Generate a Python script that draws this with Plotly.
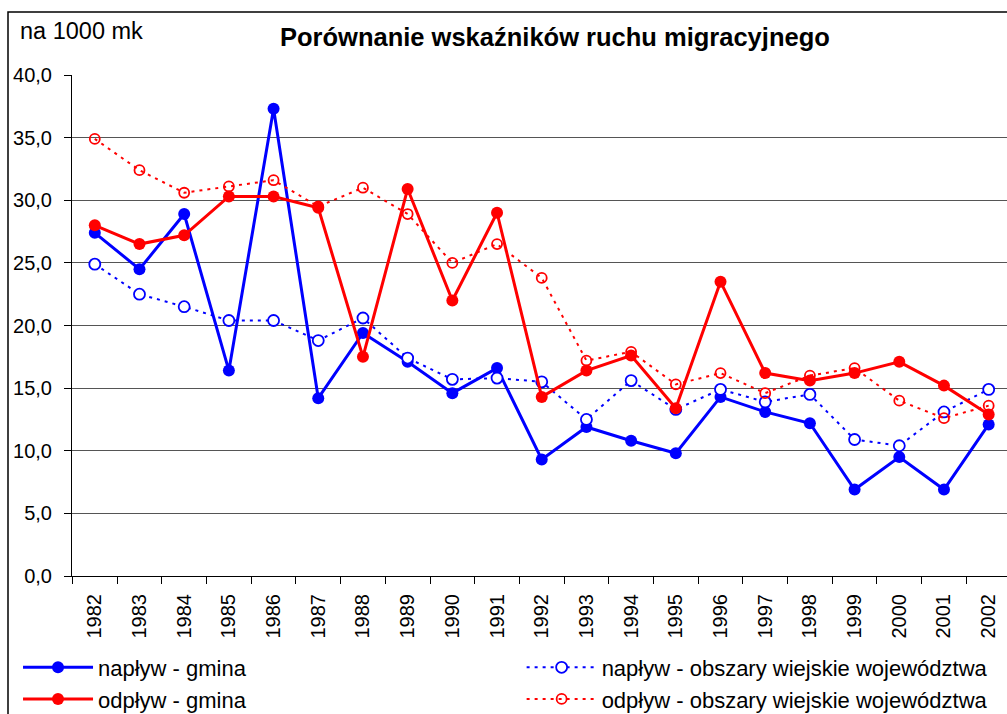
import plotly.graph_objects as go

years = [str(y) for y in range(1982, 2003)]
naplyw_gmina = [27.4, 24.5, 28.9, 16.4, 37.3, 14.2, 19.4, 17.1, 14.6, 16.6, 9.3,
                11.9, 10.8, 9.8, 14.3, 13.1, 12.2, 6.9, 9.5, 6.9, 12.1]
odplyw_gmina = [28.0, 26.5, 27.2, 30.3, 30.3, 29.4, 17.5, 30.9, 22.0, 29.0, 14.3,
                16.4, 17.6, 13.4, 23.5, 16.2, 15.6, 16.2, 17.1, 15.2, 12.9]
naplyw_wies = [24.9, 22.5, 21.5, 20.4, 20.4, 18.8, 20.6, 17.4, 15.7, 15.8, 15.5,
               12.5, 15.6, 13.3, 14.9, 13.9, 14.5, 10.9, 10.4, 13.1, 14.9]
odplyw_wies = [34.9, 32.4, 30.6, 31.1, 31.6, 29.5, 31.0, 28.9, 25.0, 26.5, 23.8,
               17.2, 17.9, 15.3, 16.2, 14.6, 16.0, 16.6, 14.0, 12.6, 13.6]
y_ticks = [0, 5, 10, 15, 20, 25, 30, 35, 40]

FONT = "Arial, Liberation Sans, sans-serif"
BLUE = "#0000FF"
RED = "#FF0000"

fig = go.Figure()
fig.add_trace(go.Scatter(
    x=years, y=naplyw_gmina, name="napływ - gmina", mode="lines+markers",
    legend="legend", legendgroup="a",
    line=dict(color=BLUE, width=3),
    marker=dict(color=BLUE, size=12, symbol="circle"),
))
fig.add_trace(go.Scatter(
    x=years, y=naplyw_wies, name="napływ - obszary wiejskie województwa", mode="lines+markers",
    legend="legend2", legendgroup="c",
    line=dict(color=BLUE, width=2, dash="3px,5px"),
    marker=dict(color="white", size=11, symbol="circle", line=dict(color=BLUE, width=1.8)),
))
fig.add_trace(go.Scatter(
    x=years, y=odplyw_gmina, name="odpływ - gmina", mode="lines+markers",
    legend="legend", legendgroup="b",
    line=dict(color=RED, width=3),
    marker=dict(color=RED, size=12, symbol="circle"),
))
fig.add_trace(go.Scatter(
    x=years, y=odplyw_wies, name="odpływ - obszary wiejskie województwa", mode="lines+markers",
    legend="legend2", legendgroup="d",
    line=dict(color=RED, width=2, dash="3px,5px"),
    marker=dict(color=RED, size=10, symbol="circle-open", line=dict(color=RED, width=1.8)),
))

legend_common = dict(
    orientation="v", xref="container", yref="container",
    y=0.0945, xanchor="left", yanchor="top",
    itemwidth=70, tracegroupgap=0,
    font=dict(family=FONT, size=22, color="black"),
    bgcolor="rgba(0,0,0,0)",
)

fig.update_layout(
    width=1007, height=714,
    margin=dict(l=72, r=0, t=75, b=138, autoexpand=False),
    paper_bgcolor="white", plot_bgcolor="white",
    separators=",.",
    font=dict(family=FONT, size=20, color="black"),
    showlegend=True,
    legend=dict(x=0.0179, **legend_common),
    legend2=dict(x=0.518, **legend_common),
    xaxis=dict(
        type="category", range=[-0.51, 20.41],
        showgrid=False, showline=True, linecolor="black", linewidth=1,
        ticks="outside", ticklen=7, tickcolor="black", tickson="boundaries",
        tickangle=-90, tickfont=dict(family=FONT, size=20),
        ticklabelstandoff=9,
        zeroline=False, automargin=False,
    ),
    yaxis=dict(
        range=[0, 40], tickvals=y_ticks, tickformat=".1f",
        showgrid=True, gridcolor="#555555", gridwidth=1,
        showline=True, linecolor="black", linewidth=1,
        ticks="outside", ticklen=7, tickcolor="black",
        tickfont=dict(family=FONT, size=20),
        ticklabelstandoff=8,
        zeroline=False, automargin=False,
    ),
)

fig.add_annotation(
    text="<b>Porównanie wskaźników ruchu migracyjnego</b>",
    xref="paper", yref="paper", x=(555 - 72) / 935, y=(576 - 37) / 501,
    showarrow=False, font=dict(family=FONT, size=25.5, color="black"),
    xanchor="center", yanchor="middle",
)
fig.add_annotation(
    text="na 1000 mk",
    xref="paper", yref="paper", x=(18 - 72) / 935, y=(576 - 31) / 501,
    showarrow=False, font=dict(family=FONT, size=23.5, color="black"),
    xanchor="left", yanchor="middle",
)
fig.add_shape(
    type="rect", xref="paper", yref="paper",
    x0=(8 - 72) / 935, x1=(1012 - 72) / 935,
    y0=(576 - 720) / 501, y1=(576 - 12) / 501,
    line=dict(color="black", width=1.5), fillcolor="rgba(0,0,0,0)", layer="below",
)

fig.write_html("out.html", config={"displayModeBar": False},
               post_script="document.body.style.margin='0px';")
